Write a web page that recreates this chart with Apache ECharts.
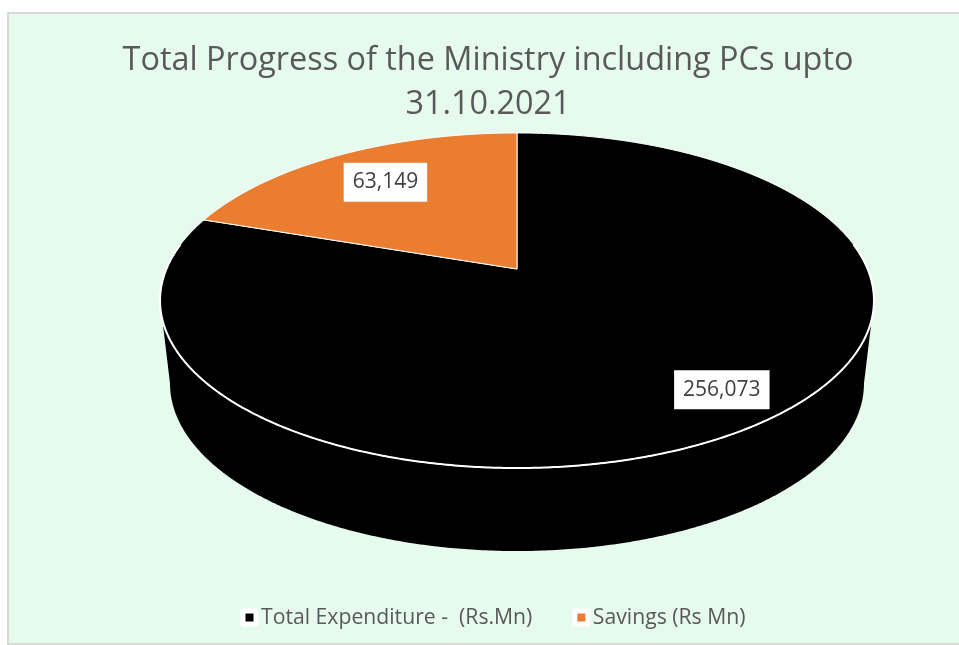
<!DOCTYPE html>
<html><head><meta charset="utf-8">
<style>html,body{margin:0;padding:0;background:#fff}#c{width:959px;height:645px}</style>
<script src="https://cdn.jsdelivr.net/npm/echarts@6/dist/echarts.min.js"></script>
</head><body><div id="c"></div>
<script>
const categories = ['Total Expenditure -  (Rs.Mn)', 'Savings (Rs Mn)'];
const values = [256073, 63149];
const colors = ['#000000', '#EB7D31'];
const titleText = 'Total Progress of the Ministry including PCs upto\n31.10.2021';
const FONT = '"Open Sans", sans-serif';

// Perspective view of the pie disc
const view = { cx: 517, cy: 269, a: 350.6, b: 161.6, k: 0.188, depth: 83, bottomScale: 0.972 };
const labelPlace = [{ r: 0.87, dy: -11 }, { r: 0.715, dy: -2 }];
const total = values.reduce((s, v) => s + v, 0);
const savingsSweep = values[1] / total * 2 * Math.PI;
// angles measured counter-clockwise from the top of the pie
const spans = [[savingsSweep, 2 * Math.PI], [0, savingsSweep]];

function proj(t, r) {
  const u = -Math.sin(t) * r, v = Math.cos(t) * r, d = 1 + view.k * v;
  return [view.cx + view.a * u / d, view.cy - view.b * v / d];
}
function rim(t0, t1) {
  const pts = [], n = Math.max(8, Math.ceil((t1 - t0) * 120));
  for (let i = 0; i <= n; i++) pts.push(proj(t0 + (t1 - t0) * i / n, 1));
  return pts;
}
function drawSide(color) {
  const topY = proj(0, 1)[1], botY = proj(Math.PI, 1)[1], midY = (topY + botY) / 2;
  const ext = view.a / Math.sqrt(1 - view.k * view.k), s = view.bottomScale;
  const low = rim(0, 2 * Math.PI).map(p => [view.cx + (p[0] - view.cx) * s, p[1] + view.depth]);
  return [
    { type: 'polygon', shape: { points: low }, style: { fill: color } },
    { type: 'polygon', shape: { points: [
      [view.cx - ext, midY], [view.cx + ext, midY],
      [view.cx + ext * s, midY + view.depth], [view.cx - ext * s, midY + view.depth]
    ] }, style: { fill: color } }
  ];
}
function renderSlice(i) {
  return function (params, api) {
    const span = spans[i], mid = (span[0] + span[1]) / 2, lp = labelPlace[i];
    const pos = proj(mid, lp.r);
    const kids = i === 0 ? drawSide(colors[0]) : [];
    kids.push({
      type: 'polygon',
      shape: { points: [[view.cx, view.cy]].concat(rim(span[0], span[1])) },
      style: { fill: colors[i], stroke: '#ffffff', lineWidth: 1, lineJoin: 'round' }
    });
    if (i === 0) {
      // bright edge where the top face meets the front wall
      kids.push({
        type: 'polyline',
        shape: { points: rim(Math.PI * 0.45, Math.PI * 1.55) },
        style: { fill: null, stroke: '#ffffff', lineWidth: 2 }
      });
    }
    kids.push({
      type: 'text', z2: 10,
      style: {
        text: api.value(0).toLocaleString('en-US'),
        x: pos[0], y: pos[1] + lp.dy, align: 'center', verticalAlign: 'middle',
        font: '21px ' + FONT, fill: '#404040',
        backgroundColor: '#ffffff', padding: [9, 9, 9, 9]
      }
    });
    return { type: 'group', children: kids };
  };
}

const chart = echarts.init(document.getElementById('c'), null, { renderer: 'canvas' });
chart.setOption({
  animation: false,
  backgroundColor: '#ffffff',
  graphic: [{
    type: 'rect', z: -1, silent: true,
    shape: { x: 8, y: 13, width: 952, height: 631 },
    style: { fill: '#E6FBEE', stroke: '#D9D9D9', lineWidth: 2 }
  }],
  title: {
    text: titleText, left: 483, top: 34, textAlign: 'center',
    textStyle: { fontFamily: FONT, fontSize: 32.4, fontWeight: 'normal', color: '#595959', lineHeight: 44 }
  },
  legend: {
    left: 240.5, top: 607, padding: 0, itemWidth: 13, itemHeight: 13, itemGap: 40,
    icon: 'rect',
    itemStyle: { borderColor: '#ffffff', borderWidth: 5, borderJoin: 'round' },
    textStyle: { fontFamily: FONT, fontSize: 21.2, color: '#595959' },
    data: categories.map((n, i) => ({ name: n, itemStyle: { color: colors[i], borderColor: '#ffffff', borderWidth: 5 } }))
  },
  series: categories.map((n, i) => ({
    type: 'custom', name: n, coordinateSystem: 'none',
    itemStyle: { color: colors[i] },
    data: [[values[i]]],
    renderItem: renderSlice(i)
  }))
});
</script></body></html>
